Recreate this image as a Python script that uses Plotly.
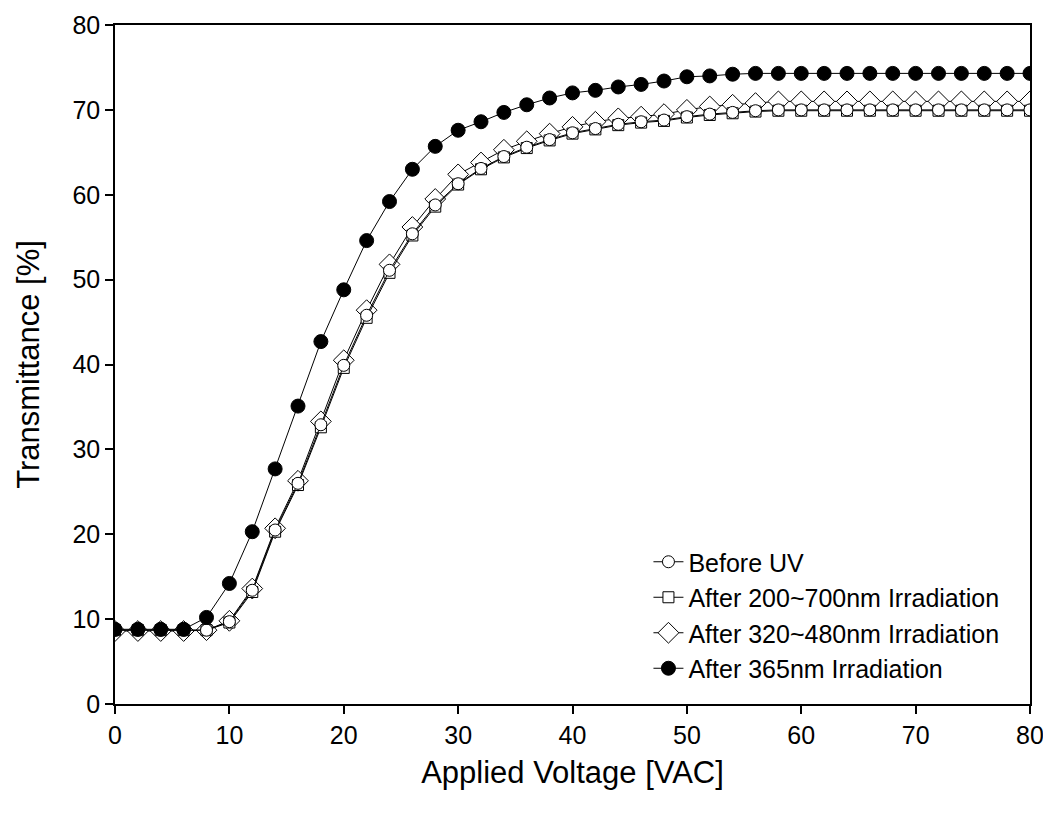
import plotly.graph_objects as go

voltage = list(range(0, 81, 2))

before_uv = [8.7, 8.7, 8.7, 8.7, 8.7, 9.7, 13.4, 20.5, 26.0, 32.9, 39.9, 45.8, 51.1, 55.4, 58.8,
             61.3, 63.1, 64.5, 65.6, 66.5, 67.3, 67.8, 68.3, 68.6, 68.8, 69.2, 69.5, 69.7, 69.9,
             70.0, 70.0, 70.0, 70.0, 70.0, 70.0, 70.0, 70.0, 70.0, 70.0, 70.0, 70.0]
after_200_700 = [8.7, 8.7, 8.7, 8.7, 8.7, 9.6, 13.2, 20.3, 25.8, 32.6, 39.6, 45.5, 50.8, 55.2, 58.6,
                 61.2, 63.0, 64.4, 65.5, 66.4, 67.2, 67.7, 68.2, 68.5, 68.7, 69.1, 69.4, 69.6, 69.8,
                 69.9, 69.9, 69.9, 69.9, 69.9, 69.9, 69.9, 69.9, 69.9, 69.9, 69.9, 69.9]
after_320_480 = [8.6, 8.6, 8.6, 8.6, 8.7, 9.8, 13.6, 20.7, 26.3, 33.3, 40.5, 46.4, 51.8, 56.2, 59.5,
                 62.4, 63.8, 65.3, 66.3, 67.2, 68.0, 68.6, 69.0, 69.2, 69.5, 70.0, 70.4, 70.6, 70.8,
                 71.0, 71.0, 71.0, 71.0, 71.0, 71.0, 71.0, 71.0, 71.0, 71.0, 71.0, 71.0]
after_365 = [8.8, 8.8, 8.8, 8.8, 10.2, 14.2, 20.3, 27.7, 35.1, 42.7, 48.8, 54.6, 59.2, 63.0, 65.7,
             67.6, 68.6, 69.7, 70.6, 71.4, 72.0, 72.3, 72.7, 73.0, 73.4, 73.9, 74.0, 74.2, 74.3,
             74.3, 74.3, 74.3, 74.3, 74.3, 74.3, 74.3, 74.3, 74.3, 74.3, 74.3, 74.3]

x_ticks = [0, 10, 20, 30, 40, 50, 60, 70, 80]
y_ticks = [0, 10, 20, 30, 40, 50, 60, 70, 80]

FONT = "Liberation Sans, Arial, sans-serif"

fig = go.Figure()

series = [
    ("After 320~480nm Irradiation", after_320_480, "diamond", "white", 16, 3),
    ("After 200~700nm Irradiation", after_200_700, "square", "white", 11, 2),
    ("Before UV", before_uv, "circle", "white", 12, 1),
    ("After 365nm Irradiation", after_365, "circle", "black", 14, 4),
]
for name, vals, sym, fill, size, rank in series:
    fig.add_trace(go.Scatter(
        x=voltage, y=vals, name=name, mode="lines+markers",
        line=dict(color="black", width=1),
        marker=dict(symbol=sym, size=size, color=fill, line=dict(color="black", width=1)),
        legendrank=rank,
    ))

axis_common = dict(
    showgrid=False, zeroline=False, showline=True, linecolor="black", linewidth=1.5,
    mirror=True, ticks="outside", ticklen=8, tickwidth=1.5, tickcolor="black",
    tickfont=dict(family=FONT, size=25, color="black"),
    automargin=False, ticklabeloverflow="allow",
)

fig.update_xaxes(
    range=[0, 80], tickvals=x_ticks,
    title=dict(text="Applied Voltage [VAC]", font=dict(family=FONT, size=31, color="black"), standoff=14),
    **axis_common,
)
fig.update_yaxes(
    range=[0, 80], tickvals=y_ticks,
    title=dict(text="Transmittance [%]", font=dict(family=FONT, size=31, color="black"), standoff=24),
    **axis_common,
)

fig.update_layout(
    width=1043, height=814,
    margin=dict(l=115, r=13, t=25, b=110),
    paper_bgcolor="white", plot_bgcolor="white",
    showlegend=True,
    legend=dict(
        x=0.583, y=0.243, xanchor="left", yanchor="top",
        font=dict(family=FONT, size=25, color="black"),
        bgcolor="rgba(0,0,0,0)", tracegroupgap=0, itemsizing="trace",
    ),
)

fig.write_html("out.html")
